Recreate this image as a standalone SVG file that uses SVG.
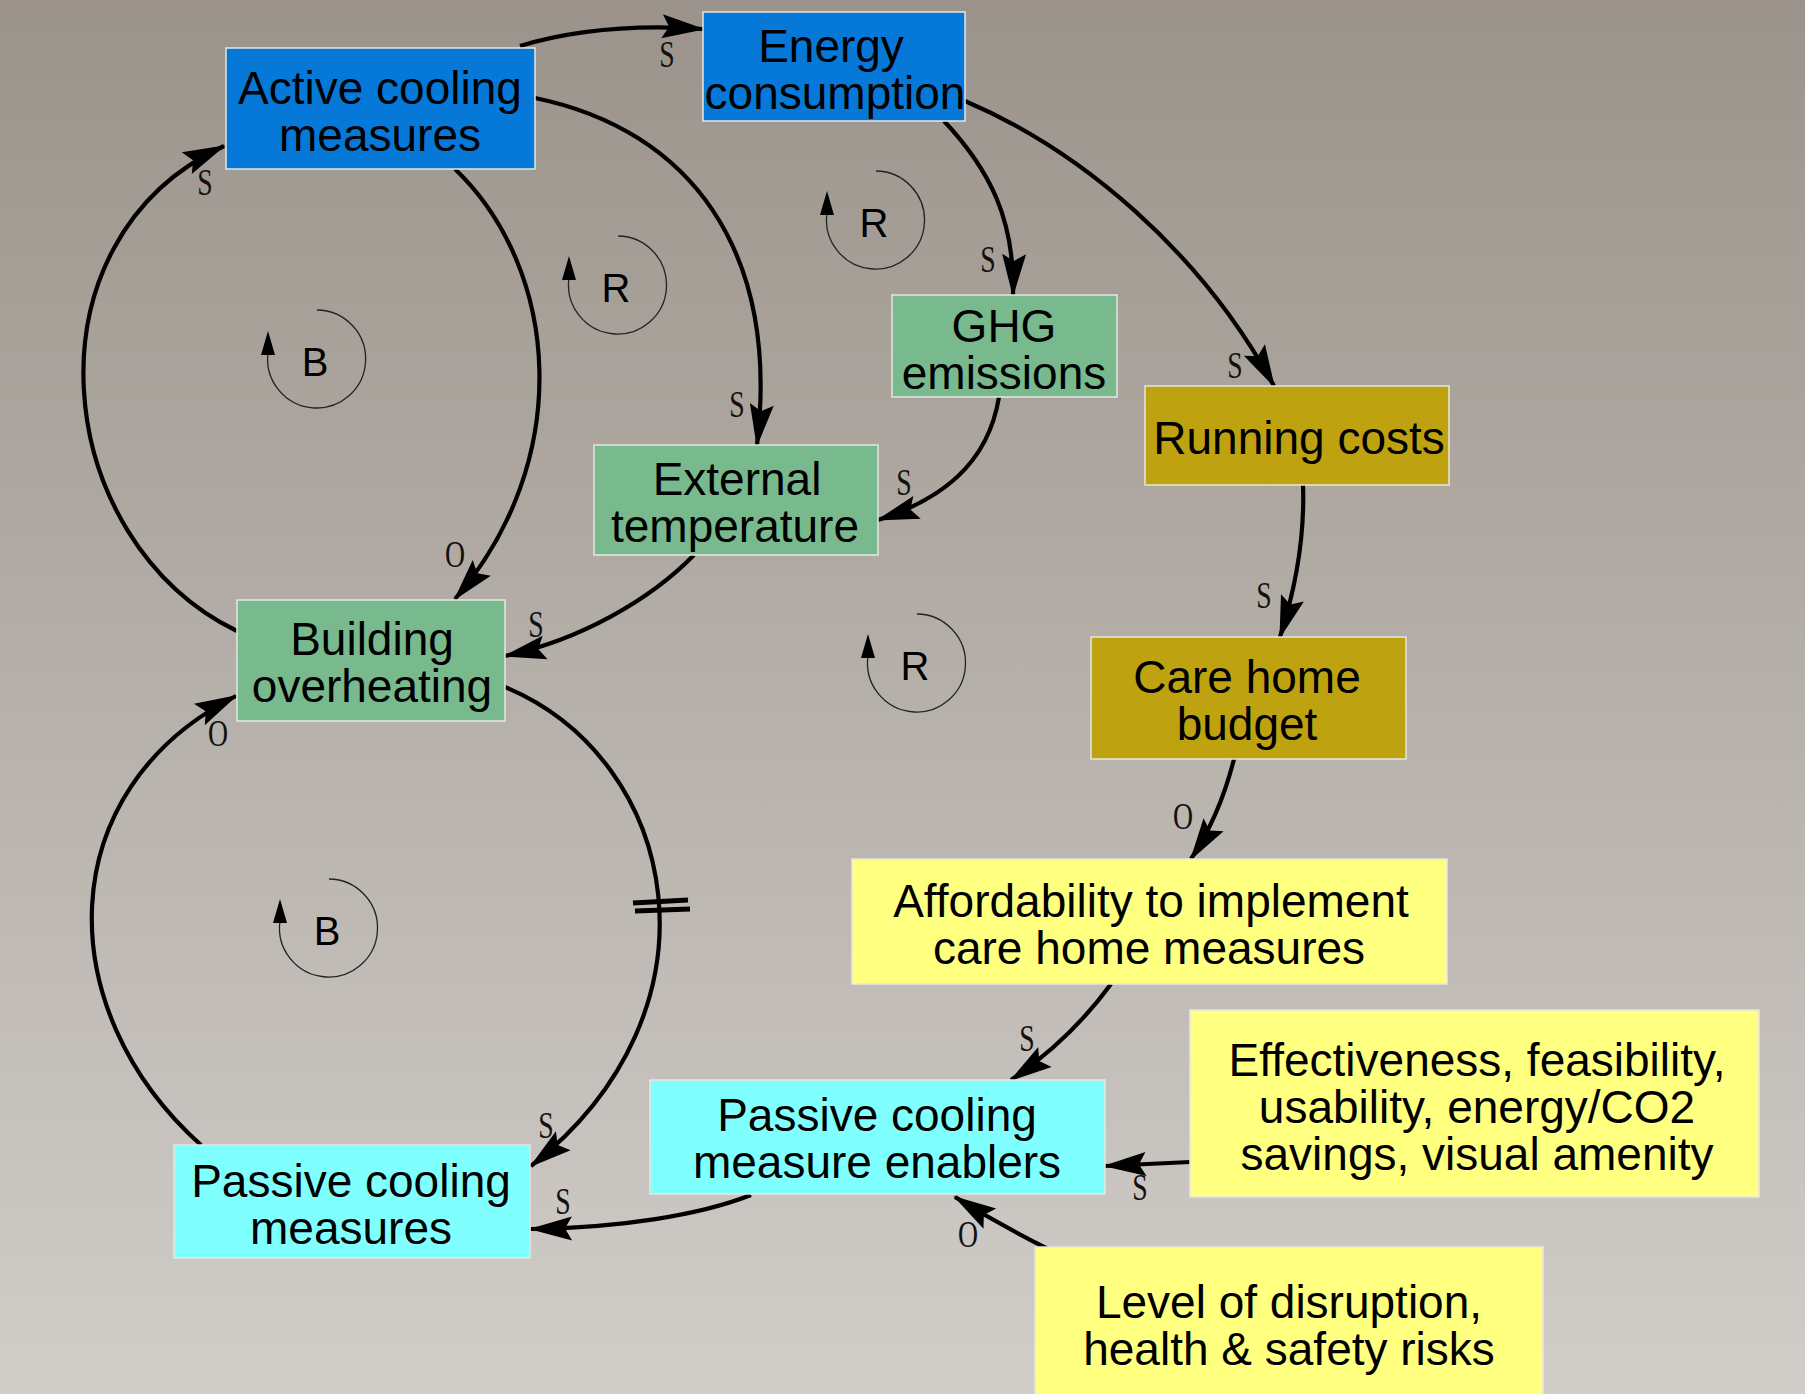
<svg xmlns="http://www.w3.org/2000/svg" width="1805" height="1394" viewBox="0 0 1805 1394">
<defs>
<linearGradient id="bg" x1="0" y1="0" x2="0" y2="1">
<stop offset="0" stop-color="#9b938b"/>
<stop offset="1" stop-color="#d1cdc9"/>
</linearGradient>
<marker id="ah" markerUnits="userSpaceOnUse" markerWidth="46" markerHeight="28" refX="41" refY="14" orient="auto" overflow="visible">
<path d="M0,2 L43,14 L0,26 L7,14 Z" fill="#000"/>
</marker>
</defs>
<style>
.box{stroke:#e6e6e0;stroke-width:1.5}
.blue{fill:#0679d8}
.green{fill:#78b98e}
.gold{fill:#bfa20f}
.yellow{fill:#ffff80}
.cyan{fill:#80ffff}
.nt{font-family:"Liberation Sans",Arial,sans-serif;font-size:46px;fill:#000;text-anchor:middle}
.lbl{font-family:"Liberation Serif","Times New Roman",serif;font-size:37px;fill:#111;text-anchor:middle}
.link{fill:none;stroke:#000;stroke-width:4.2;marker-end:url(#ah)}
.loop{fill:none;stroke:#222;stroke-width:1.3}
.lt{font-family:"Liberation Sans",Arial,sans-serif;font-size:40px;fill:#000;text-anchor:middle}
</style>
<rect x="0" y="0" width="1805" height="1394" fill="url(#bg)"/>

<g id="connectors">
<path class="link" d="M520,46 Q600,22 703,29"/>
<path class="link" d="M535,98 C690,130 780,250 757,445"/>
<path class="link" d="M455,169 C560,270 575,460 455,599"/>
<path class="link" d="M237,631 C50,540 20,240 224,146"/>
<path class="link" d="M944,121 C990,170 1015,220 1013,295"/>
<path class="link" d="M965,101 C1080,150 1200,250 1274,386"/>
<path class="link" d="M999,397 C988,465 940,500 878,520"/>
<path class="link" d="M694,555 C650,600 580,640 505,656"/>
<path class="link" d="M1303,485 C1305,540 1295,590 1280,637"/>
<path class="link" d="M1234,759 Q1220,815 1191,859"/>
<path class="link" d="M1111,984 Q1070,1040 1011,1080"/>
<path class="link" d="M1190,1162 L1105,1166"/>
<path class="link" d="M1048,1249 Q1000,1225 955,1197"/>
<path class="link" d="M751,1195 C700,1215 620,1228 531,1229"/>
<path class="link" d="M505,687 C680,760 730,1010 531,1166"/>
<path class="link" d="M201,1145 C50,1010 50,790 236,696"/>
<g stroke="#000" stroke-width="5">
<line x1="633" y1="903" x2="688" y2="900"/>
<line x1="635" y1="911" x2="690" y2="909"/>
</g>
<g class="lbl">
<text transform="translate(667,67) scale(0.75,1)">S</text>
<text transform="translate(737,417) scale(0.75,1)">S</text>
<text transform="translate(455,567) scale(0.75,1)">O</text>
<text transform="translate(205,195) scale(0.75,1)">S</text>
<text transform="translate(988,272) scale(0.75,1)">S</text>
<text transform="translate(1235,378) scale(0.75,1)">S</text>
<text transform="translate(904,495) scale(0.75,1)">S</text>
<text transform="translate(536,637) scale(0.75,1)">S</text>
<text transform="translate(1264,608) scale(0.75,1)">S</text>
<text transform="translate(1183,829) scale(0.75,1)">O</text>
<text transform="translate(1027,1051) scale(0.75,1)">S</text>
<text transform="translate(1140,1200) scale(0.75,1)">S</text>
<text transform="translate(968,1247) scale(0.75,1)">O</text>
<text transform="translate(563,1214) scale(0.75,1)">S</text>
<text transform="translate(546,1138) scale(0.75,1)">S</text>
<text transform="translate(218,746) scale(0.75,1)">O</text>
</g>
</g>

<g id="loop-b1">
<path class="loop" d="M317,310 A49,49 0 1 1 268,353"/>
<polygon points="261,355 275,355 268,331" fill="#000"/>
<text class="lt" x="315" y="376">B</text>
</g>
<g id="loop-r1">
<path class="loop" d="M618,236 A49,49 0 1 1 569,278"/>
<polygon points="562,280 576,280 569,256" fill="#000"/>
<text class="lt" x="616" y="302">R</text>
</g>
<g id="loop-r2">
<path class="loop" d="M876,171 A49,49 0 1 1 827,213"/>
<polygon points="820,215 834,215 827,191" fill="#000"/>
<text class="lt" x="874" y="237">R</text>
</g>
<g id="loop-r3">
<path class="loop" d="M917,614 A49,49 0 1 1 868,656"/>
<polygon points="861,658 875,658 868,634" fill="#000"/>
<text class="lt" x="915" y="680">R</text>
</g>
<g id="loop-b2">
<path class="loop" d="M329,879 A49,49 0 1 1 280,921"/>
<polygon points="273,923 287,923 280,899" fill="#000"/>
<text class="lt" x="327" y="945">B</text>
</g>

<g id="node-active-cooling">
<rect class="box blue" x="226" y="48" width="309" height="121"/>
<text class="nt" x="380" y="104">Active cooling</text>
<text class="nt" x="380" y="151">measures</text>
</g>
<g id="node-energy">
<rect class="box blue" x="703" y="12" width="262" height="109"/>
<text class="nt" x="831" y="62">Energy</text>
<text class="nt" x="835" y="109">consumption</text>
</g>
<g id="node-ghg">
<rect class="box green" x="892" y="295" width="225" height="102"/>
<text class="nt" x="1004" y="342">GHG</text>
<text class="nt" x="1004" y="389">emissions</text>
</g>
<g id="node-running-costs">
<rect class="box gold" x="1145" y="386" width="304" height="99"/>
<text class="nt" x="1299" y="454">Running costs</text>
</g>
<g id="node-external-temperature">
<rect class="box green" x="594" y="445" width="284" height="110"/>
<text class="nt" x="737" y="495">External</text>
<text class="nt" x="735" y="542">temperature</text>
</g>
<g id="node-building-overheating">
<rect class="box green" x="237" y="600" width="268" height="121"/>
<text class="nt" x="372" y="655">Building</text>
<text class="nt" x="372" y="702">overheating</text>
</g>
<g id="node-care-home-budget">
<rect class="box gold" x="1091" y="637" width="315" height="122"/>
<text class="nt" x="1247" y="693">Care home</text>
<text class="nt" x="1247" y="740">budget</text>
</g>
<g id="node-affordability">
<rect class="box yellow" x="852" y="859" width="595" height="125"/>
<text class="nt" x="1151" y="917">Affordability to implement</text>
<text class="nt" x="1149" y="964">care home measures</text>
</g>
<g id="node-effectiveness">
<rect class="box yellow" x="1190" y="1010" width="569" height="187"/>
<text class="nt" x="1477" y="1076">Effectiveness, feasibility,</text>
<text class="nt" x="1477" y="1123">usability, energy/CO2</text>
<text class="nt" x="1477" y="1170">savings, visual amenity</text>
</g>
<g id="node-enablers">
<rect class="box cyan" x="650" y="1080" width="455" height="114"/>
<text class="nt" x="877" y="1131">Passive cooling</text>
<text class="nt" x="877" y="1178">measure enablers</text>
</g>
<g id="node-passive-cooling">
<rect class="box cyan" x="174" y="1145" width="356" height="113"/>
<text class="nt" x="351" y="1197">Passive cooling</text>
<text class="nt" x="351" y="1244">measures</text>
</g>
<g id="node-disruption">
<rect class="box yellow" x="1035" y="1247" width="508" height="160"/>
<text class="nt" x="1289" y="1318">Level of disruption,</text>
<text class="nt" x="1289" y="1365">health &amp; safety risks</text>
</g>
</svg>
